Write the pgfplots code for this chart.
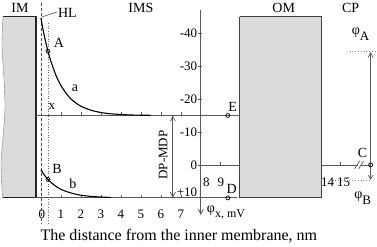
\documentclass[border=0pt]{standalone}
\usepackage{pgfplots}
\pgfplotsset{compat=1.18}
\usepackage{fontspec}
\setmainfont{Liberation Serif}
\usetikzlibrary{arrows.meta}
\newcommand\fs[1]{\fontsize{#1bp}{#1bp}\selectfont}
\definecolor{boxfill}{gray}{0.86}
\definecolor{ln}{gray}{0.35}
\begin{document}
\begin{tikzpicture}
\begin{axis}[scale only axis, width=377bp, height=246bp,
  xmin=-2.05, xmax=16.8, ymin=-50, ymax=24.55, y dir=reverse,
  hide axis, clip=false]
\path (rel axis cs:0,0) rectangle (rel axis cs:1,1);
% IM box
\addplot[fill=boxfill, draw=none] coordinates {(-1.9,-45) (-0.25,-45) (-0.25,10) (-1.92,10) (-1.97,5) (-2.0,-1) (-1.92,-7) (-1.8,-17) (-1.85,-26) (-1.95,-36) (-1.9,-45)};
\addplot[gray, thin, smooth] coordinates {(-1.92,10) (-1.97,5) (-2.0,-1) (-1.92,-7) (-1.8,-17) (-1.85,-26) (-1.95,-36) (-1.9,-45)};
\addplot[black!85, line width=1.1bp] coordinates {(-1.9,-45) (-0.25,-45) (-0.25,10) (-1.92,10)};
% OM box
\addplot[fill=boxfill, draw=black!75, line width=0.9bp] coordinates {(9.95,-45) (14.05,-45) (14.05,10) (9.95,10) (9.95,-45)};
% horizontal lines
\addplot[ln, line width=0.8bp] coordinates {(-0.25,-15) (9.95,-15)};
\addplot[ln, line width=0.8bp] coordinates {(-0.25,10) (9.8,10)};
\addplot[ln, line width=0.8bp] coordinates {(8,0) (9.95,0)};
\addplot[ln, line width=0.8bp] coordinates {(14.05,0) (15.85,0)};
\addplot[ln, line width=0.8bp] coordinates {(16.0,0) (16.5,0)};
\addplot[ln, line width=0.7bp] coordinates {(15.7,1.2) (15.95,-1.2)};
\addplot[ln, line width=0.7bp] coordinates {(15.9,1.2) (16.15,-1.2)};
% ticks
\foreach \t in {1,...,7}{
  \edef\tmp{\noexpand\draw[ln, line width=0.6bp] (axis cs:\t,-15) -- (axis cs:\t,-16);
            \noexpand\draw[ln, line width=0.6bp] (axis cs:\t,10) -- (axis cs:\t,9);
            \noexpand\node[font=\noexpand\fs{13}, anchor=base] at (axis cs:\t,16.3) {\t};}
  \tmp
}
\node[font=\fs{13}, anchor=base] at (axis cs:0.05,16.3) {0};
\draw[ln, line width=0.6bp] (axis cs:9,0) -- (axis cs:9,-1);
\draw[ln, line width=0.6bp] (axis cs:15,0) -- (axis cs:15,-1);
\node[font=\fs{13}, anchor=base] at (axis cs:8.28,6.4) {8};
\node[font=\fs{13}, anchor=base] at (axis cs:9.0,6.4) {9};
\node[font=\fs{13}, anchor=base] at (axis cs:14.35,6.4) {14};
\node[font=\fs{13}, anchor=base] at (axis cs:15.15,6.4) {15};
% HL dashed and x dotted
\addplot[black!70, dashed, line width=0.7bp, dash pattern=on 3bp off 2bp] coordinates {(0,-49) (0,18)};
\addplot[black!60, dotted, line width=0.6bp] coordinates {(0.35,-43) (0.35,18)};
\addplot[black!70, line width=0.6bp] coordinates {(0,-44.8) (0.8,-46.4)};
\node[font=\fs{14}, anchor=west, inner sep=0.5bp] at (axis cs:0.82,-46.2) {HL};
\node[font=\fs{13}] at (axis cs:0.55,-17.6) {x};
% phi axis
\draw[ln, line width=0.8bp, -{Straight Barb[length=5bp,width=5bp]}] (axis cs:8,-47) -- (axis cs:8,15.2);
\foreach \v/\l in {-40/-40,-30/-30,-20/-20,-10/-10,0/0}{
  \edef\tmp{\noexpand\draw[ln, line width=0.6bp] (axis cs:7.85,\v) -- (axis cs:8.05,\v);
    \noexpand\node[font=\noexpand\fs{13}, anchor=east, inner sep=0.5bp] at (axis cs:7.85,\v) {\l};}
  \tmp
}
\node[font=\fs{13}, anchor=east, inner sep=0.5bp] at (axis cs:7.85,8.3) {+10};
\node[font=\fs{14}, anchor=west, inner sep=0] at (axis cs:8.3,14.6) {φ\raisebox{-0.35em}{\fs{12}x, mV}};
% DP-MDP
\draw[ln, line width=0.7bp, {Straight Barb[length=5bp,width=5bp]}-{Straight Barb[length=5bp,width=5bp]}] (axis cs:6.6,-15) -- (axis cs:6.6,10);
\node[font=\fs{13}, rotate=90] at (axis cs:6.12,-3) {DP-MDP};
% curves
\addplot[black, line width=1.1bp, smooth] coordinates {(0,-44.5) (0.1,-41.2) (0.2,-38.3) (0.35,-34.5) (0.5,-31.4) (0.75,-27.2) (1.0,-24.1) (1.25,-21.8) (1.5,-20.0) (1.75,-18.8) (2.0,-17.8) (2.5,-16.6) (3.0,-15.9) (3.5,-15.5) (4.0,-15.3) (4.5,-15.15) (5.0,-15.08) (5.5,-15.05)};
\addplot[black, line width=1.1bp, smooth] coordinates {(0,1.5) (0.1,2.4) (0.2,3.3) (0.35,4.4) (0.5,5.3) (0.75,6.5) (1.0,7.4) (1.25,8.0) (1.5,8.5) (1.75,8.9) (2.0,9.2) (2.5,9.55) (3.0,9.75) (3.5,9.86)};
% C arrows and phi levels
\draw[ln, line width=0.7bp, -{Straight Barb[length=5bp,width=5bp]}] (axis cs:16.5,0) -- (axis cs:16.5,-34.3);
\draw[ln, line width=0.7bp, -{Straight Barb[length=4bp,width=5bp]}] (axis cs:16.5,0) -- (axis cs:16.5,4.5);
\addplot[black!50, dotted, line width=0.8bp] coordinates {(15.45,-34.3) (16.8,-34.3)};
\addplot[black!50, dotted, line width=0.8bp] coordinates {(14.6,4.6) (16.55,4.6)};
\node[font=\fs{14}, anchor=base] at (axis cs:16.0,-39.5) {φ\raisebox{-0.4em}{\fs{13}A}};
\node[font=\fs{14}, anchor=base] at (axis cs:16.1,10.3) {φ\raisebox{-0.4em}{\fs{13}B}};
% points
\addplot[only marks, mark=o, mark size=2bp, mark options={fill=white, draw=black, line width=0.7bp}] coordinates {(0.35,-34.5) (0.35,4.4) (9.35,-15) (9.35,10) (16.5,0)};
% letter labels
\node[font=\fs{14}] at (axis cs:0.9,-37) {A};
\node[font=\fs{14}] at (axis cs:1.7,-23.3) {a};
\node[font=\fs{14}] at (axis cs:0.8,1.2) {B};
\node[font=\fs{14}] at (axis cs:1.6,5.7) {b};
\node[font=\fs{14}] at (axis cs:9.6,-17.6) {E};
\node[font=\fs{14}] at (axis cs:9.55,7.3) {D};
\node[font=\fs{14}] at (axis cs:16.1,-3.6) {C};
% region labels
\node[font=\fs{14}] at (axis cs:-1.05,-47.6) {IM};
\node[font=\fs{14}] at (axis cs:5.0,-47.6) {IMS};
\node[font=\fs{14}] at (axis cs:12.15,-47.6) {OM};
\node[font=\fs{14}] at (axis cs:15.5,-47.6) {CP};
% caption
\node[font=\fs{16}] at (axis cs:6.9,21.7) {The distance from the inner membrane, nm};
\end{axis}
\end{tikzpicture}
\end{document}
